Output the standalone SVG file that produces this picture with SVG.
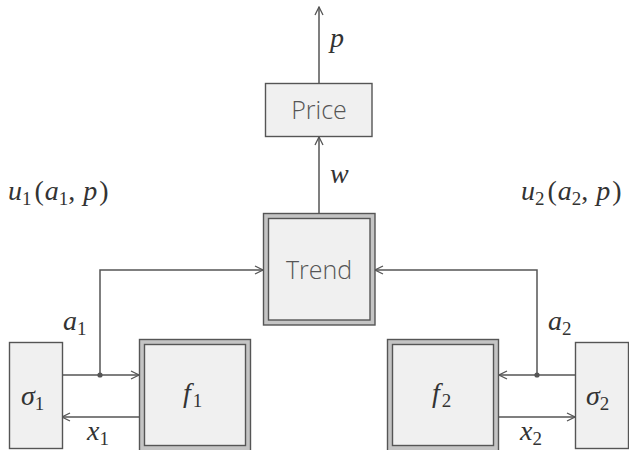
<svg xmlns="http://www.w3.org/2000/svg" width="629" height="450" viewBox="0 0 629 450">
<defs>
<style>
.box{fill:#f0f0f0;stroke:#555;stroke-width:1.4}
.outer{fill:#c4c4c4;stroke:#555;stroke-width:1.4}
.ln{fill:none;stroke:#555;stroke-width:1.5}
</style>
<marker id="ah" viewBox="0 0 10 10" refX="9" refY="5" markerWidth="10" markerHeight="10" markerUnits="userSpaceOnUse" orient="auto">
<path d="M1,1 L9,5 L1,9" fill="none" stroke="#555" stroke-width="1.3"/>
</marker>
</defs>
<rect width="629" height="450" fill="#fff"/>
<g id="connectors">
<path class="ln" d="M319,83 V7" marker-end="url(#ah)"/>
<path class="ln" d="M319,214 V137" marker-end="url(#ah)"/>
<path class="ln" d="M100,375 V270 H263" marker-end="url(#ah)"/>
<path class="ln" d="M537,375 V270 H375" marker-end="url(#ah)"/>
<path class="ln" d="M62,375 H139" marker-end="url(#ah)"/>
<path class="ln" d="M139,417 H62" marker-end="url(#ah)"/>
<path class="ln" d="M575,375 H499" marker-end="url(#ah)"/>
<path class="ln" d="M499,417 H575" marker-end="url(#ah)"/>
<circle cx="100" cy="375" r="2.6" fill="#555"/>
<circle cx="537" cy="375" r="2.6" fill="#555"/>
</g>
<g font-family="Open Sans, Liberation Sans, sans-serif" font-weight="300" font-size="25" fill="#555" text-anchor="middle">
<g id="price">
<rect class="box" x="265.5" y="83.5" width="106.5" height="53"/>
<text x="319" y="119">Price</text>
</g>
<g id="trend">
<rect class="outer" x="263.5" y="213.5" width="111.5" height="111.5"/>
<rect class="box" x="268.5" y="218.5" width="101.5" height="101.5"/>
<text x="319" y="279">Trend</text>
</g>
</g>
<g font-family="Liberation Serif, DejaVu Serif, serif" font-style="italic" font-size="28" fill="#333">
<g id="sigma1">
<rect class="box" x="9.5" y="342.5" width="53" height="106"/>
<text x="21" y="405">σ<tspan font-style="normal" font-size="19" dy="5">1</tspan></text>
</g>
<g id="f1">
<rect class="outer" x="139.5" y="339.5" width="111" height="112"/>
<rect class="box" x="144.5" y="344.5" width="101" height="101"/>
<text x="183" y="402">f<tspan font-style="normal" font-size="19" dx="2" dy="5">1</tspan></text>
</g>
<g id="f2">
<rect class="outer" x="387.5" y="339.5" width="111" height="112"/>
<rect class="box" x="392.5" y="344.5" width="101" height="101"/>
<text x="432" y="402">f<tspan font-style="normal" font-size="19" dx="2" dy="5">2</tspan></text>
</g>
<g id="sigma2">
<rect class="box" x="575.5" y="342.5" width="53" height="106"/>
<text x="586" y="405">σ<tspan font-style="normal" font-size="19" dy="5">2</tspan></text>
</g>
<g id="labels">
<text x="330" y="47">p</text>
<text x="330" y="183">w</text>
<text x="63" y="330">a<tspan font-style="normal" font-size="19" dy="5">1</tspan></text>
<text x="87" y="440">x<tspan font-style="normal" font-size="19" dy="5">1</tspan></text>
<text x="548" y="330">a<tspan font-style="normal" font-size="19" dy="5">2</tspan></text>
<text x="520" y="440">x<tspan font-style="normal" font-size="19" dy="5">2</tspan></text>
<text x="8" y="200">u<tspan font-style="normal" font-size="19" dy="5">1</tspan><tspan font-style="normal" dy="-5" dx="3">(</tspan><tspan dx="1">a</tspan><tspan font-style="normal" font-size="19" dy="5">1</tspan><tspan font-style="normal" dy="-5">,</tspan><tspan dx="8">p</tspan><tspan font-style="normal" dx="2">)</tspan></text>
<text x="521" y="200">u<tspan font-style="normal" font-size="19" dy="5">2</tspan><tspan font-style="normal" dy="-5" dx="3">(</tspan><tspan dx="1">a</tspan><tspan font-style="normal" font-size="19" dy="5">2</tspan><tspan font-style="normal" dy="-5">,</tspan><tspan dx="8">p</tspan><tspan font-style="normal" dx="2">)</tspan></text>
</g>
</g>
</svg>
